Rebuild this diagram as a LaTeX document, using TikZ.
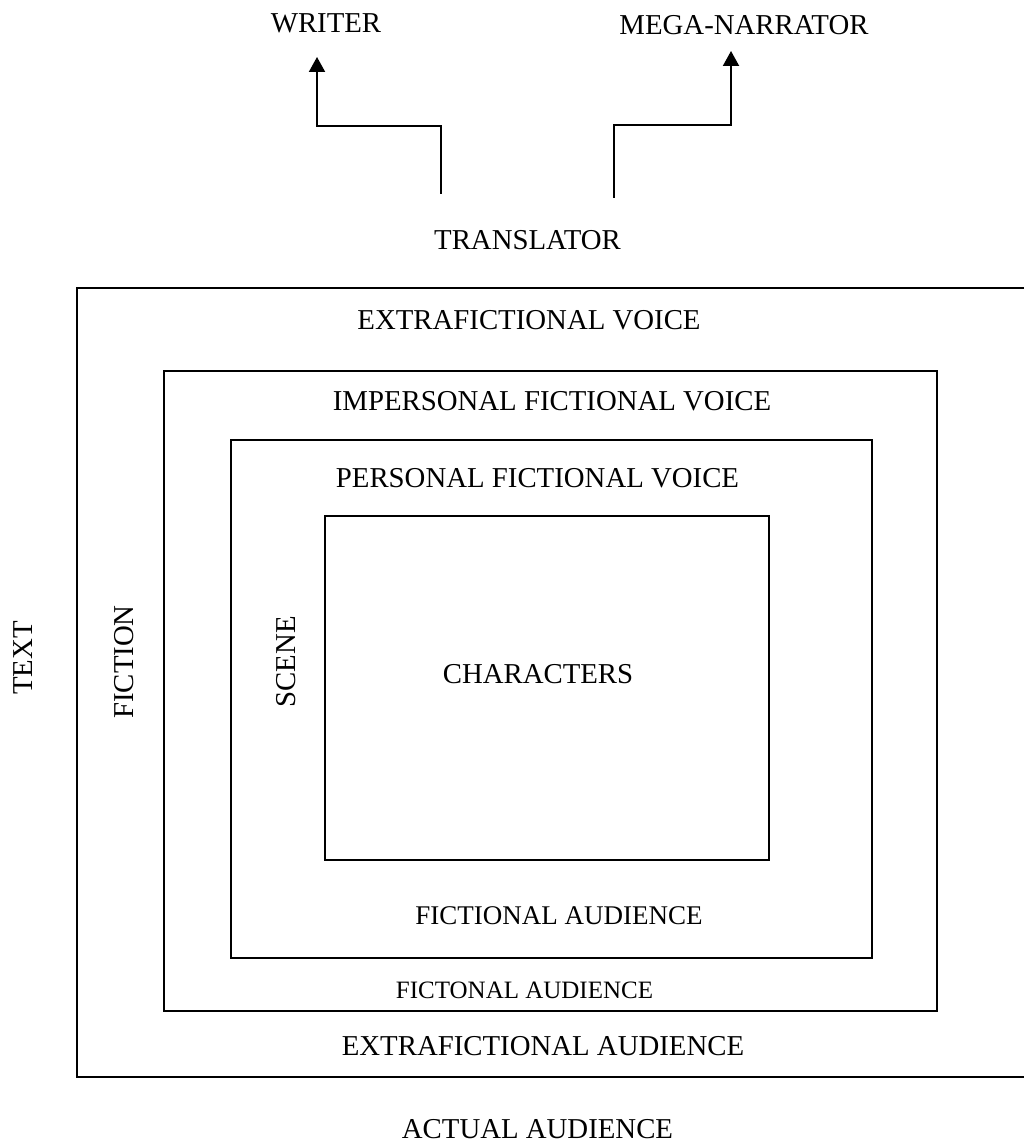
\documentclass[tikz,border=0pt]{standalone}
\usepackage{fontspec}
\setmainfont{Liberation Serif}
\usetikzlibrary{arrows.meta}
\begin{document}
\begin{tikzpicture}[x=0.5pt, y=-0.5pt, line width=1pt,
        lbl/.style = {inner sep=0pt, font=\fontsize{14.4}{17}\selectfont},
        box/.style = {draw},
        arr/.style = {draw, -{Triangle[width=8pt, length=7.5pt]}}]
        \useasboundingbox (0,0) rectangle (1024,1144);
        % voices above the text
        \node[lbl] (writer) at (326,23) {WRITER};
        \node[lbl] (mega) at (744,25) {MEGA-NARRATOR};
        \node[lbl] (translator) at (527.5,240) {TRANSLATOR};
        \coordinate (wbase) at (440.5,194);
        \coordinate (wtip) at (317,57);
        \coordinate (mbase) at (613.5,198);
        \coordinate (mtip) at (731,51);
        \draw[arr] (wbase) |- (317,126) -- (wtip);
        \draw[arr] (mbase) |- (731,125) -- (mtip);
        % nested frames
        \draw[box] (1024,288.5) -| (77,1077) -- (1024,1077);
        \draw[box] (164,371) rectangle (937,1011);
        \draw[box] (231,440) rectangle (872,958);
        \draw[box] (325,516) rectangle (769,860);
        % labels
        \node[lbl] (extravoice) at (529,320) {EXTRAFICTIONAL VOICE};
        \node[lbl] (impersonal) at (552,401) {IMPERSONAL FICTIONAL VOICE};
        \node[lbl] (personal) at (537.5,478.5) {PERSONAL FICTIONAL VOICE};
        \node[lbl] (characters) at (538,674) {CHARACTERS};
        \node[lbl, font=\fontsize{13.5}{16}\selectfont] (fictaud) at (559,916) {FICTIONAL AUDIENCE};
        \node[lbl, font=\fontsize{12.5}{15}\selectfont] (fictonal) at (524.5,990) {FICTONAL AUDIENCE};
        \node[lbl] (extraaud) at (543,1046) {EXTRAFICTIONAL AUDIENCE};
        \node[lbl] (actual) at (537.5,1129) {ACTUAL AUDIENCE};
        \node[lbl, rotate=90] (text) at (23,658) {TEXT};
        \node[lbl, rotate=90] (fiction) at (124,662) {FICTION};
        \node[lbl, rotate=90] (scene) at (286,662) {SCENE};
\end{tikzpicture}
\end{document}
